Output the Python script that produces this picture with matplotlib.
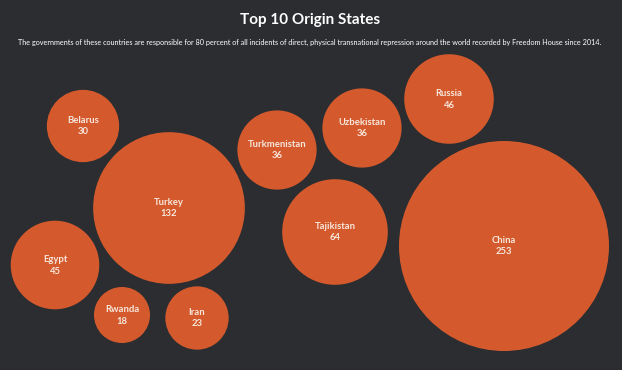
import numpy as np
import matplotlib.pyplot as plt
from matplotlib.patches import Circle

# data
countries = ["China", "Turkey", "Tajikistan", "Russia", "Egypt",
             "Uzbekistan", "Turkmenistan", "Belarus", "Iran", "Rwanda"]
incidents = [253, 132, 64, 46, 45, 36, 36, 30, 23, 18]

# bubble centres (layout, pixel units)
cx = [504, 169, 335, 449, 55, 362, 277, 83, 197, 122]
cy = [246, 208, 232, 99, 265, 128, 150, 126, 318, 315]

bg = "#2b2d31"
fill = "#d45a2d"
txt = "#f7e7dc"

plt.rcParams['font.family'] = ['Lato', 'DejaVu Sans']

fig = plt.figure(figsize=(6.22, 3.70), dpi=100, facecolor=bg)
ax = fig.add_axes([0, 0, 1, 1])
ax.set_facecolor(bg)
ax.set_xlim(0, 622)
ax.set_ylim(370, 0)
ax.set_aspect('equal')
ax.axis('off')

k = 105 / np.sqrt(max(incidents))  # area proportional to value
for name, v, x, y in zip(countries, incidents, cx, cy):
    r = k * np.sqrt(v)
    ax.add_patch(Circle((x, y), r, facecolor=fill, edgecolor='none'))
    ax.text(x, y - 5.5, name, ha='center', va='center', color=txt,
            fontsize=6.8, fontweight='bold')
    ax.text(x, y + 6, str(v), ha='center', va='center', color=txt,
            fontsize=6.8, fontweight='bold')

ax.text(310, 20, "Top 10 Origin States", ha='center', va='center',
        color='white', fontsize=11, fontweight='bold')
ax.text(310, 42, "The governments of these countries are responsible for 80 percent of all "
        "incidents of direct, physical transnational repression around the world "
        "recorded by Freedom House since 2014.", ha='center', va='center',
        color='white', fontsize=5.25)

fig.savefig("out.png", dpi=100, facecolor=bg)
